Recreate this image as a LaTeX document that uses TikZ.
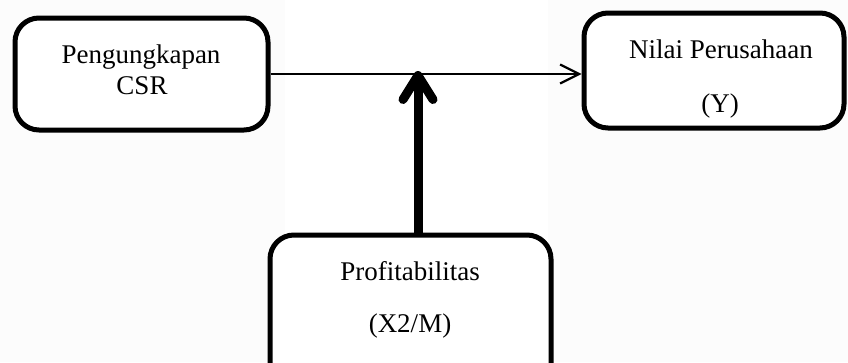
\documentclass[tikz,border=0pt]{standalone}
\usepackage{fontspec}
\setmainfont{Liberation Serif}
\usetikzlibrary{arrows.meta}
\begin{document}
\begin{tikzpicture}[x=1pt,y=-1pt,
  box/.style={draw=black,line width=5pt,rounded corners=24pt,fill=white},
  lbl/.style={anchor=base,inner sep=0pt,font=\fontsize{27}{31}\selectfont},
  thin/.style={line width=2.2pt,-{Straight Barb[length=19pt,width=19pt,line width=2.2pt]}},
  thick/.style={line width=9pt,-{Straight Barb[length=24pt,width=30pt,round,line width=9pt]}}]
\useasboundingbox (0,0) rectangle (848,362);
\fill[gray!2.5] (0,0) rectangle (848,362);
\fill[white] (285,0) rectangle (548,362);
\begin{scope}
\clip (0,0) rectangle (848,362);
\node[box,minimum width=253pt,minimum height=112pt] (csr) at (141.5,74) {};
\node[box,minimum width=260pt,minimum height=115pt] (nilai) at (714,70.5) {};
\node[box,minimum width=281pt,minimum height=160pt] (profit) at (410.5,315) {};
\end{scope}
\node[lbl] (t1) at (141,63) {Pengungkapan};
\node[lbl] (t2) at (142,94) {CSR};
\node[lbl] (t3) at (721,58) {Nilai Perusahaan};
\node[lbl] (t4) at (720,112) {(Y)};
\node[lbl] (t5) at (410,280) {Profitabilitas};
\node[lbl] (t6) at (410,332) {(X2/M)};
\coordinate (m) at (418,74);
\coordinate (mb) at (418,235);
\draw[thin] (csr.east |- m) -- (nilai.west |- m);
\draw[thick] (profit.north -| mb) -- ([yshift=3pt]m);
\end{tikzpicture}
\end{document}
